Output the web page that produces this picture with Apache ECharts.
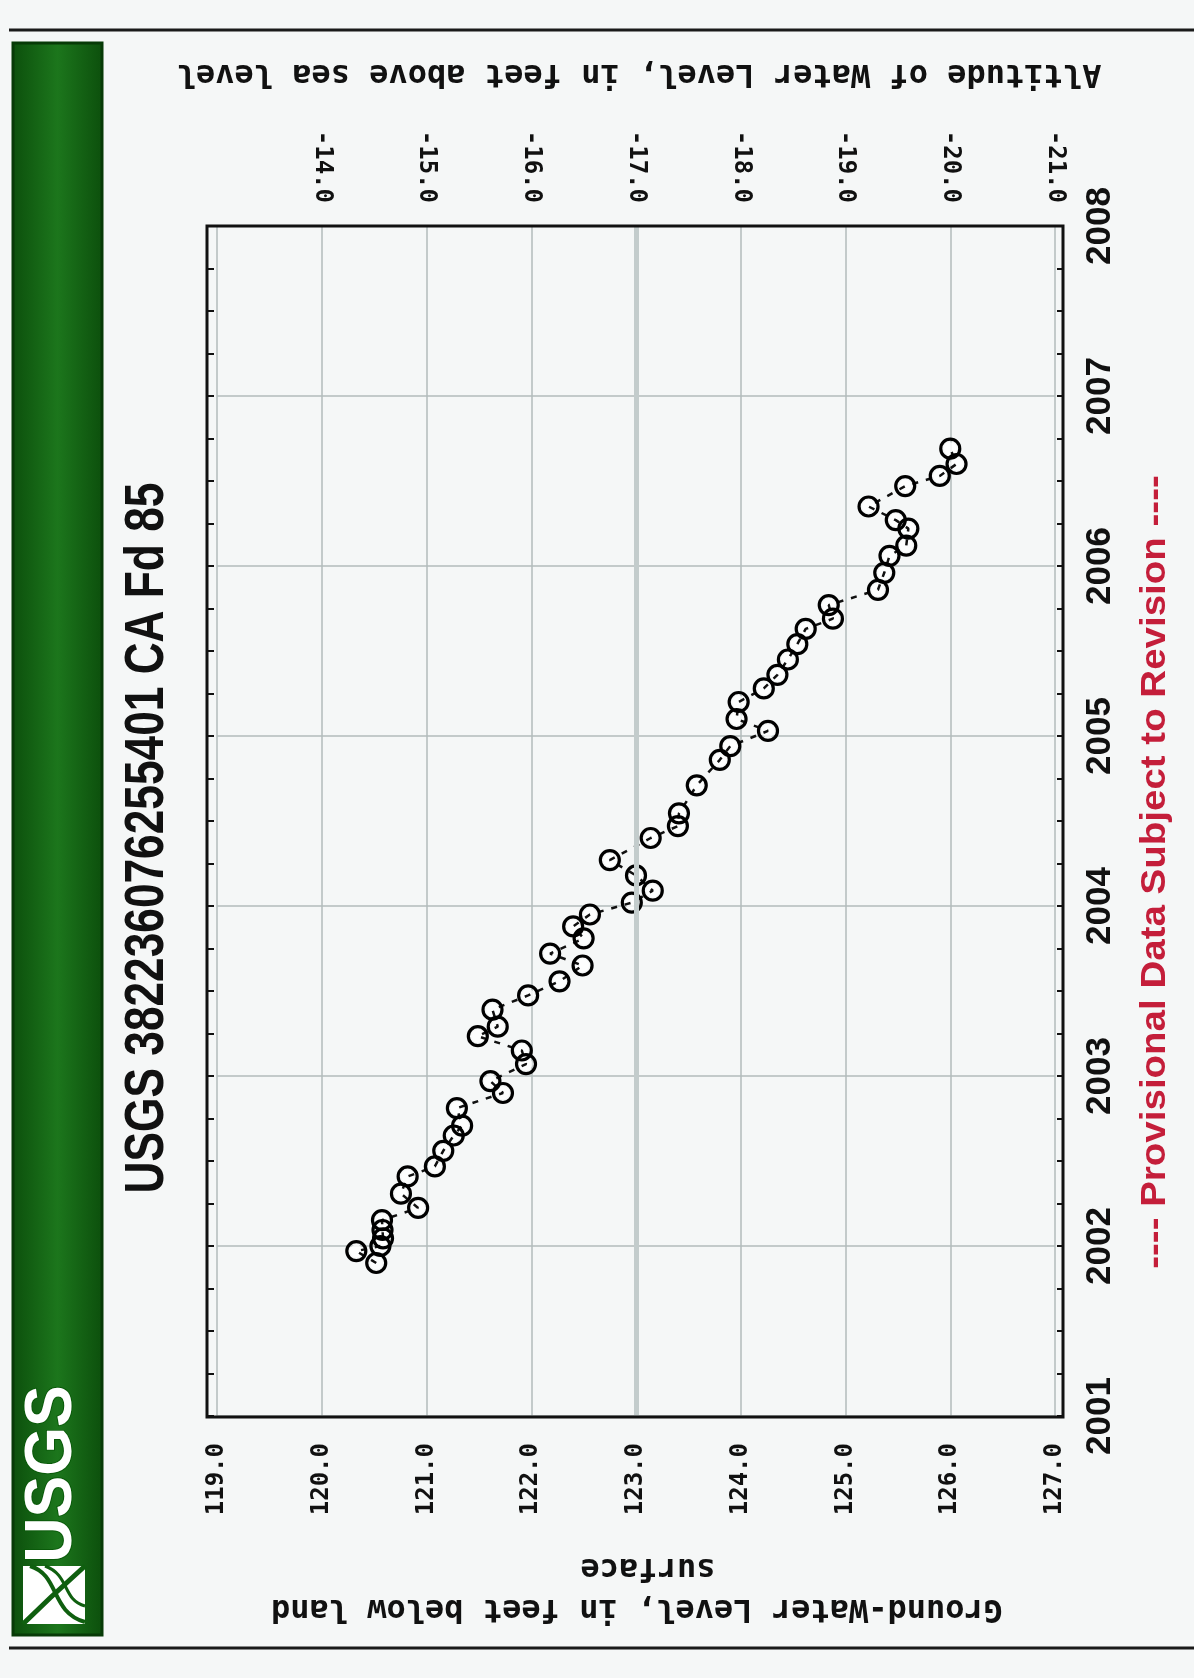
<!DOCTYPE html>
<html>
<head>
<meta charset="utf-8">
<title>USGS 382236076255401 CA Fd 85</title>
<script src="https://cdn.jsdelivr.net/npm/echarts@6/dist/echarts.min.js"></script>
<style>
  html, body { margin: 0; padding: 0; background: #f5f7f7; }
  #chart-container { width: 1194px; height: 1678px; }
</style>
</head>
<body>
<div id="chart-container"></div>
<script>
// water level observations (decimal year, depth below land surface in feet)
var obsYear = [
  2001.90, 2001.97, 2002.00, 2002.045, 2002.094, 2002.152, 2002.224, 2002.308,
  2002.409, 2002.468, 2002.56, 2002.65, 2002.708, 2002.811, 2002.90, 2002.97,
  2003.07, 2003.15, 2003.234, 2003.29, 2003.39, 2003.474, 2003.557, 2003.65,
  2003.72, 2003.81, 2003.88, 2003.95, 2004.02, 2004.09, 2004.18, 2004.27,
  2004.40, 2004.47, 2004.545, 2004.71, 2004.86, 2004.94, 2005.03, 2005.10,
  2005.20, 2005.28, 2005.36, 2005.45, 2005.54, 2005.63, 2005.69, 2005.77,
  2005.86, 2005.96, 2006.06, 2006.12, 2006.22, 2006.27, 2006.35, 2006.47,
  2006.53, 2006.60, 2006.69
];
var depthFt = [
  120.52, 120.33, 120.56, 120.585, 120.58, 120.575, 120.92, 120.756,
  120.82, 121.08, 121.16, 121.26, 121.34, 121.29, 121.73, 121.61,
  121.95, 121.91, 121.49, 121.68, 121.63, 121.97, 122.27, 122.49,
  122.18, 122.50, 122.40, 122.56, 122.96, 123.16, 123.00, 122.75,
  123.14, 123.40, 123.41, 123.58, 123.80, 123.90, 124.26, 123.96,
  123.98, 124.22, 124.35, 124.45, 124.54, 124.62, 124.88, 124.84,
  125.31, 125.37, 125.42, 125.58, 125.60, 125.48, 125.22, 125.57,
  125.90, 126.06, 126.00
];

var depthRange = [119, 127];
var yearRange = [2001, 2008];
var landSurfaceAlt = 106;      // altitude = land surface - depth
var highlightDepth = [123];

var titleText = 'USGS 382236076255401 CA Fd 85';
var depthTitle = ['Ground-Water Level, in feet below land', 'surface'];
var altTitle = 'Altitude of Water Level, in feet above sea level';
var footNote = '---- Provisional Data Subject to Revision ----';

var points = obsYear.map(function (y, i) { return [depthFt[i], y]; });

var mono = '"DejaVu Sans Mono", "Liberation Mono", monospace';
var narrow = '"Liberation Sans Narrow", "Liberation Sans", Arial, sans-serif';

var dom = document.getElementById('chart-container');
var myChart = echarts.init(dom, null, { renderer: 'canvas' });

var option = {
  backgroundColor: '#f5f7f7',
  animation: false,
  grid: { left: 217, right: 139, top: 226, bottom: 262 },
  xAxis: [
    {
      type: 'value',
      position: 'bottom',
      min: depthRange[0],
      max: depthRange[1],
      interval: 1,
      axisLine: { show: false },
      axisTick: { show: false },
      splitLine: { show: true, lineStyle: { color: '#b2bbbb', width: 1.5 } },
      axisLabel: {
        rotate: 90,
        margin: 27,
        color: '#111',
        fontFamily: mono,
        fontWeight: 'bold',
        fontSize: 24,
        formatter: function (v) { return v.toFixed(1); }
      }
    },
    {
      type: 'value',
      position: 'top',
      inverse: true,
      min: landSurfaceAlt - depthRange[1],
      max: landSurfaceAlt - depthRange[0],
      interval: 1,
      axisLine: { show: false },
      axisTick: { show: false },
      splitLine: { show: false },
      axisLabel: {
        rotate: 90,
        margin: 23,
        showMaxLabel: false,
        color: '#111',
        fontFamily: mono,
        fontWeight: 'bold',
        fontSize: 24,
        formatter: function (v) { return v.toFixed(1); }
      }
    }
  ],
  yAxis: [
    {
      type: 'value',
      position: 'right',
      offset: 8,
      min: yearRange[0],
      max: yearRange[1],
      interval: 1,
      axisLine: { show: false },
      axisTick: { show: true, inside: true, length: 6, lineStyle: { color: '#111', width: 2 } },
      minorTick: { show: true, splitNumber: 4, length: 6, lineStyle: { color: '#111', width: 2 } },
      splitLine: { show: true, lineStyle: { color: '#b2bbbb', width: 1.5 } },
      axisLabel: {
        rotate: 90,
        margin: 20,
        color: '#111',
        fontFamily: narrow,
        fontWeight: 'bold',
        fontSize: 35,
        formatter: function (v) { return String(v); }
      }
    },
    {
      type: 'value',
      position: 'left',
      offset: 9,
      min: yearRange[0],
      max: yearRange[1],
      interval: 1,
      axisLine: { show: false },
      axisTick: { show: true, inside: true, length: 6, lineStyle: { color: '#111', width: 2 } },
      minorTick: { show: true, splitNumber: 4, length: 6, lineStyle: { color: '#111', width: 2 } },
      splitLine: { show: false },
      axisLabel: { show: false }
    }
  ],
  series: [
    {
      // heavier reference line at 123 ft
      type: 'line',
      data: [],
      z: 1,
      markLine: {
        silent: true,
        symbol: ['none', 'none'],
        label: { show: false },
        lineStyle: { color: '#c3cccc', width: 5, type: 'solid' },
        data: highlightDepth.map(function (d) { return { xAxis: d }; })
      }
    },
    {
      type: 'scatter',
      data: points,
      symbol: 'emptyCircle',
      symbolSize: 13,
      z: 3,
      itemStyle: { color: 'transparent', borderColor: 'rgba(35,35,225,0.75)', borderWidth: 2 }
    },
    {
      type: 'line',
      data: points,
      z: 4,
      symbol: 'circle',
      symbolSize: 19,
      lineStyle: { color: '#111', width: 2.5, type: [6, 8] },
      itemStyle: { color: 'transparent', borderColor: '#000', borderWidth: 3.2 }
    }
  ],
  graphic: [
    { type: 'line', shape: { x1: 9, y1: 30, x2: 1194, y2: 30 }, style: { stroke: '#1a1a1a', lineWidth: 3 } },
    { type: 'line', shape: { x1: 9, y1: 1648, x2: 1194, y2: 1648 }, style: { stroke: '#1a1a1a', lineWidth: 3 } },
    {
      type: 'rect',
      shape: { x: 13, y: 43, width: 89, height: 1592 },
      style: {
        fill: new echarts.graphic.LinearGradient(0, 0, 1, 0, [
          { offset: 0, color: '#0c4f0c' },
          { offset: 0.5, color: '#1c761c' },
          { offset: 1, color: '#0c4f0c' }
        ]),
        stroke: '#073a07',
        lineWidth: 3
      }
    },
    {
      type: 'text',
      x: 53, y: 1474,
      rotation: Math.PI / 2,
      scaleX: 0.95,
      style: {
        text: 'USGS',
        font: 'bold 66px ' + narrow,
        fill: '#ffffff',
        stroke: '#0a5a0a',
        lineWidth: 2,
        textAlign: 'center',
        textVerticalAlign: 'middle'
      }
    },
    { type: 'rect', shape: { x: 23, y: 1566, width: 62, height: 58 }, style: { fill: '#ffffff' } },
    {
      type: 'polyline',
      shape: { points: [[23, 1624], [50, 1598], [85, 1566]] },
      style: { stroke: '#0f5f0f', lineWidth: 5, fill: null }
    },
    {
      type: 'bezierCurve',
      shape: { x1: 30, y1: 1566, x2: 85, y2: 1622, cpx1: 60, cpy1: 1575, cpx2: 50, cpy2: 1612 },
      style: { stroke: '#0f5f0f', lineWidth: 4, fill: null }
    },
    {
      type: 'bezierCurve',
      shape: { x1: 45, y1: 1566, x2: 85, y2: 1606, cpx1: 70, cpy1: 1575, cpx2: 62, cpy2: 1600 },
      style: { stroke: '#0f5f0f', lineWidth: 3, fill: null }
    },
    {
      type: 'text',
      x: 148, y: 838,
      rotation: Math.PI / 2,
      scaleX: 0.79,
      style: {
        text: titleText,
        font: 'bold 56px ' + narrow,
        fill: '#111',
        textAlign: 'center',
        textVerticalAlign: 'middle'
      }
    },
    {
      type: 'text',
      x: 639, y: 73,
      rotation: Math.PI,
      style: {
        text: altTitle,
        font: 'bold 32px ' + mono,
        fill: '#111',
        textAlign: 'center',
        textVerticalAlign: 'middle'
      }
    },
    {
      type: 'text',
      x: 637, y: 1608,
      rotation: Math.PI,
      style: {
        text: depthTitle[0],
        font: 'bold 32px ' + mono,
        fill: '#111',
        textAlign: 'center',
        textVerticalAlign: 'middle'
      }
    },
    {
      type: 'text',
      x: 648, y: 1567,
      rotation: Math.PI,
      style: {
        text: depthTitle[1],
        font: 'bold 32px ' + mono,
        fill: '#111',
        textAlign: 'center',
        textVerticalAlign: 'middle'
      }
    },
    {
      type: 'text',
      x: 1155, y: 872,
      rotation: Math.PI / 2,
      scaleX: 1.1,
      style: {
        text: footNote,
        font: 'bold 35px ' + narrow,
        fill: '#c41e3a',
        textAlign: 'center',
        textVerticalAlign: 'middle'
      }
    },
    {
      type: 'rect',
      z: 100,
      shape: { x: 207, y: 226, width: 856, height: 1191 },
      style: { fill: null, stroke: '#111', lineWidth: 3 }
    }
  ]
};

myChart.setOption(option);
window.addEventListener('resize', myChart.resize);
</script>
</body>
</html>
